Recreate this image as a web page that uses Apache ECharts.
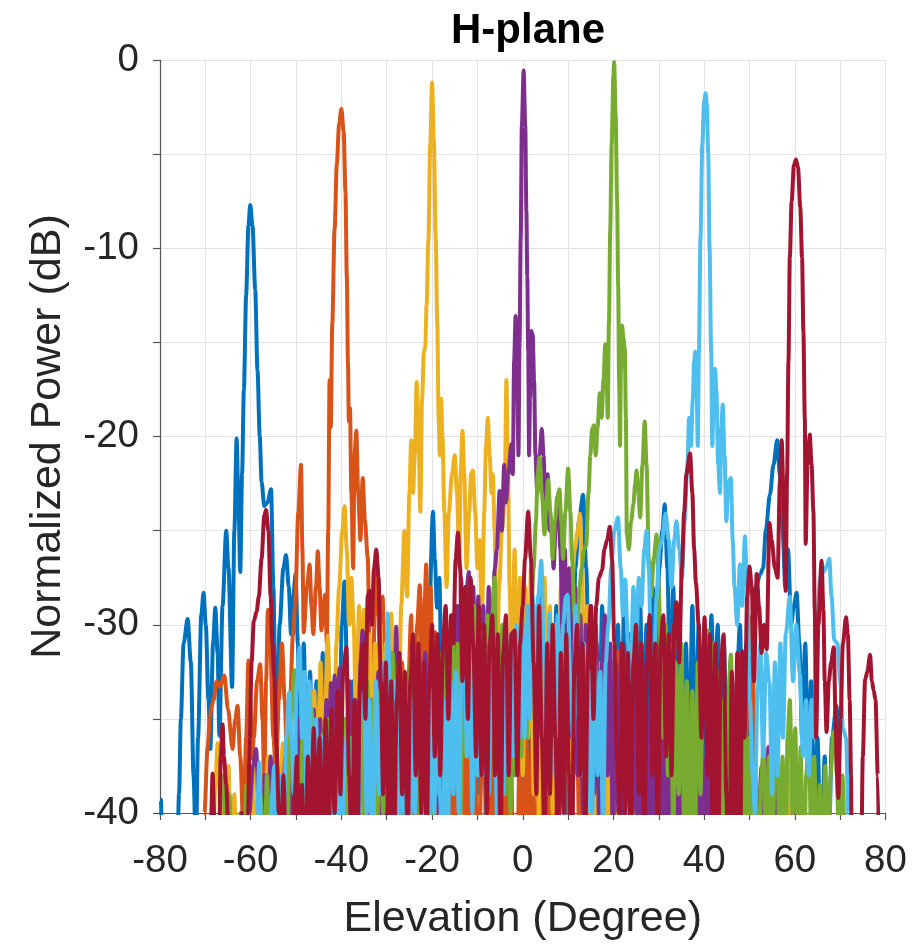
<!DOCTYPE html>
<html>
<head>
<meta charset="utf-8">
<script src="https://cdn.jsdelivr.net/npm/echarts@6/dist/echarts.min.js"></script>
<style>
html,body{margin:0;padding:0;background:#fff;}
#chart{width:917px;height:946px;}
</style>
</head>
<body>
<div id="chart"></div>
<script>
// Beam patterns: [elevation (deg), normalized power (dB)]
const beamM60 = [[-80.2,-45],[-79.8,-39.3],[-79.4,-45],[-76.4,-45],[-75.8,-39],[-75.4,-35],[-74.8,-31],[-73.9,-29.7],[-73.2,-32],[-72.6,-38],[-72.1,-42],[-71.6,-36],[-70.9,-29.5],[-70.4,-28.3],[-69.9,-30],[-69.3,-34],[-68.9,-36.6],[-68.3,-31],[-67.8,-29.1],[-67.3,-31.5],[-66.9,-35.9],[-66.2,-29],[-65.4,-25],[-64.9,-27],[-64.1,-33.3],[-63.6,-25],[-63.1,-20.1],[-62.7,-23.5],[-62.3,-27.2],[-61.9,-22],[-61.5,-17.5],[-61,-12.5],[-60.5,-8.8],[-60.1,-7.7],[-59.6,-8.8],[-59,-12.2],[-58.5,-16.5],[-58,-20],[-57.6,-22.4],[-57,-23.7],[-56.3,-23.5],[-55.5,-22.8],[-55,-28],[-54.4,-37],[-53.6,-30],[-52.8,-27],[-52.2,-26.3],[-51.6,-28],[-51.1,-30.5],[-50.6,-28.5],[-50.1,-27.3],[-49.6,-31],[-49,-38],[-48.3,-31],[-47.6,-39],[-46.9,-32.5],[-46.2,-42],[-45.5,-33],[-44.8,-40],[-44.1,-31.5],[-43.4,-41],[-42.7,-34],[-42,-44],[-41.3,-35],[-40.6,-39],[-39.9,-30],[-39.3,-27.7],[-38.7,-33],[-38.1,-40],[-37.4,-33],[-36.7,-42],[-36,-31.5],[-35.3,-38],[-34.6,-43],[-33.9,-33],[-33.2,-40],[-32.5,-32],[-31.8,-41],[-31.1,-34],[-30.4,-45],[-29.7,-35],[-29,-32.5],[-28.3,-40],[-27.6,-33],[-26.9,-42],[-26.2,-34],[-25.5,-44],[-24.8,-33],[-24.1,-40],[-23.4,-31],[-22.7,-39],[-22,-32],[-21.3,-41],[-20.6,-29],[-19.8,-24],[-19.4,-26.5],[-18.9,-29.1],[-18.4,-27.5],[-17.8,-35],[-17.1,-42],[-16.4,-34],[-15.7,-41],[-15,-32],[-14.3,-40],[-13.6,-31],[-12.9,-38],[-12.2,-43],[-11.5,-33],[-10.8,-40],[-10.1,-30],[-9.4,-39],[-8.7,-32],[-8,-42],[-7.3,-33],[-6.6,-40],[-5.9,-31],[-5.2,-39],[-4.5,-44],[-3.8,-33],[-3.1,-41],[-2.4,-31],[-1.7,-38],[-1,-29],[-0.3,-36],[0.4,-42],[1.1,-32],[1.8,-40],[2.5,-30],[3.2,-38],[3.9,-28],[4.6,-35],[5.3,-41],[6,-31],[6.7,-39],[7.4,-29],[8.1,-37],[8.8,-30],[9.5,-40],[10.2,-31],[10.9,-38],[11.6,-27],[12.4,-24.5],[13.3,-23.1],[14,-27],[14.7,-34],[15.4,-40],[16.1,-30],[16.8,-38],[17.5,-29],[18.2,-37],[18.9,-42],[19.6,-32],[20.3,-39],[21,-30],[21.7,-38],[22.4,-28],[23.1,-35],[23.8,-41],[24.5,-31],[25.2,-39],[25.9,-29],[26.6,-37],[27.3,-30],[28,-39],[28.7,-28],[29.4,-33],[30.1,-27],[30.8,-25],[31.3,-23.6],[31.9,-27],[32.5,-34],[33.2,-28],[33.9,-37],[34.6,-30],[35.3,-40],[36,-31],[36.7,-38],[37.4,-29],[38.1,-37],[38.8,-30],[39.5,-39],[40.2,-31],[40.9,-38],[41.6,-29.5],[42.3,-35],[43,-30],[43.7,-39],[44.4,-31],[45.1,-40],[45.8,-32],[46.5,-41],[47.2,-33],[47.9,-30],[48.6,-38],[49.3,-31],[50,-40],[50.7,-31],[51.4,-28],[52.4,-27.3],[53,-27],[53.6,-25],[54.5,-23.1],[55.3,-21.5],[56.1,-20.2],[56.7,-22],[57.3,-25],[57.9,-28],[58.5,-26],[59.2,-30],[59.8,-29],[60.4,-28.3],[61,-31],[61.6,-36],[62.3,-31],[63,-38],[63.6,-33],[64.3,-40],[65,-36],[65.8,-43],[66.6,-37],[67.3,-44],[68.2,-36],[69.2,-34.3],[69.8,-38],[70.5,-46]];

const beamM40 = [[-70.6,-45],[-70.2,-40],[-69.5,-36.5],[-69,-35],[-68.7,-34.4],[-68.2,-34],[-67.5,-33],[-66.8,-33.3],[-65.8,-32.7],[-65,-34.5],[-64,-36.6],[-63.4,-35],[-62.9,-34.3],[-62.3,-37],[-61.6,-41],[-61,-36],[-60.5,-31.9],[-60.1,-34],[-59.7,-37.1],[-59.3,-36],[-58.6,-33],[-57.9,-32.1],[-57.4,-35],[-57,-38.5],[-56.6,-33],[-56.2,-29.2],[-55.7,-31],[-55,-36],[-54.4,-38],[-53.8,-34],[-53.1,-31],[-52.5,-34],[-51.9,-38],[-51.3,-34],[-50.7,-30.6],[-50.2,-29],[-49.5,-24],[-48.9,-21.5],[-48.6,-26],[-48.3,-30.4],[-47.6,-28],[-47,-26.8],[-46.6,-29],[-46.2,-30.5],[-45.6,-28],[-45.2,-26.1],[-44.8,-28],[-44.4,-30.3],[-43.9,-29],[-43.6,-28.4],[-43.2,-31],[-42.9,-25],[-42.6,-17],[-42.35,-19.5],[-42,-14],[-41.5,-9],[-41,-5.5],[-40.5,-3.4],[-40,-2.6],[-39.5,-3.8],[-39.1,-7],[-38.8,-11.5],[-38.55,-16],[-38.35,-19.2],[-38.1,-18.5],[-37.8,-23],[-37.4,-27],[-37.1,-21],[-36.7,-19.7],[-36.3,-23],[-35.8,-25.5],[-35.3,-22.2],[-34.8,-24.5],[-34.2,-26.4],[-33.7,-32],[-33.2,-39],[-32.7,-29.5],[-32,-27],[-31.5,-33],[-30.9,-28.5],[-30.3,-40],[-29.7,-43],[-29.1,-31],[-28.5,-41],[-27.9,-30.5],[-27.3,-42],[-26.6,-32],[-26,-44],[-25.3,-33.5],[-24.6,-29.5],[-24,-41],[-23.3,-30],[-22.7,-27.9],[-22.1,-36],[-21.6,-28.5],[-21.3,-26.8],[-20.8,-33],[-20.3,-28],[-19.8,-35],[-19.3,-30.4],[-18.8,-41],[-18.2,-32.5],[-17.5,-42],[-16.8,-34],[-16.1,-44],[-15.4,-35],[-14.7,-46],[-14,-36],[-13.3,-33.5],[-12.6,-43],[-11.9,-35],[-11.2,-45],[-10.5,-36],[-9.8,-47],[-9.1,-37],[-8.4,-34],[-7.7,-44],[-7,-35],[-6.3,-46],[-5.6,-37],[-4.9,-47],[-4.2,-36],[-3.5,-43],[-2.8,-34.5],[-2.1,-42],[-1.4,-46],[-0.7,-37],[0,-44],[0.7,-35],[1.4,-43],[2.1,-36],[2.8,-46],[3.5,-37],[4.2,-34],[4.9,-42],[5.6,-36],[6.3,-45],[7,-36],[7.7,-42],[8.4,-30],[9.1,-27.5],[9.8,-35],[10.5,-46],[11.2,-38],[11.9,-35],[12.6,-43],[13.3,-36],[14,-45],[14.7,-37],[15.4,-47],[16.1,-38],[16.8,-43],[17.5,-36],[18.2,-45],[18.9,-38],[19.6,-47],[20.3,-35],[21,-31.4],[21.7,-37],[22.4,-41],[23.1,-47],[23.8,-39],[24.5,-36.5],[25.2,-44],[25.9,-38],[26.6,-47],[27.3,-40],[28,-37.5],[28.7,-45],[29.4,-39],[30.1,-47],[30.8,-40],[31.5,-38],[32.2,-46],[32.9,-39.5],[33.6,-45],[34.3,-38.5],[35,-47],[35.7,-40],[36.4,-37],[37.1,-45],[37.8,-39],[38.5,-47],[39.2,-40],[39.9,-38],[40.6,-46],[41.3,-39.5],[42,-44],[42.7,-47],[44,-47],[47,-46],[48.3,-40],[49,-37.5],[50,-31],[50.6,-29.5],[51.2,-38],[52,-46],[53.5,-46],[54.5,-40.5],[55.3,-38],[56,-43],[57,-39],[58,-47],[60,-47],[61.3,-39.5],[62,-44],[63,-47]];

const beamM20 = [[-68.5,-45],[-67.8,-38.5],[-67.3,-36.3],[-66.8,-39],[-66.2,-44],[-65.5,-38],[-64.9,-37.5],[-64.3,-43],[-63.6,-39],[-63,-46],[-61.5,-46],[-60.8,-39],[-60.2,-42],[-59.5,-37.5],[-58.9,-44],[-58.2,-38],[-57.5,-46],[-56.8,-39],[-56.1,-37],[-55.4,-43],[-54.7,-38],[-54,-45],[-53.4,-38],[-52.9,-36.3],[-52.3,-41],[-51.6,-37],[-50.9,-44],[-50.2,-36],[-49.5,-42],[-48.8,-35],[-48.1,-41],[-47.4,-34],[-46.7,-40],[-46,-33.5],[-45.3,-39],[-44.6,-32],[-43.9,-38],[-43,-30.6],[-42.4,-35],[-41.8,-40],[-41.1,-31],[-40.5,-28],[-39.8,-25],[-39.3,-23.7],[-38.8,-26],[-38.3,-30],[-37.8,-27.5],[-37.3,-30],[-36.7,-36],[-36.1,-29],[-35.5,-35],[-35,-29.2],[-34.4,-37],[-33.8,-30.5],[-33.2,-39],[-32.6,-31],[-32,-38],[-31.4,-30],[-30.8,-37],[-30.2,-31],[-29.6,-39],[-29,-29.4],[-28.5,-35],[-28,-30.5],[-27.4,-36],[-26.8,-29],[-26.1,-25],[-25.5,-28.5],[-25,-23],[-24.6,-20.2],[-24.2,-23],[-23.8,-21],[-23.4,-17.1],[-23,-19.5],[-22.6,-24],[-22.2,-18],[-21.8,-15.5],[-21.5,-15.2],[-21.2,-13],[-20.8,-9.5],[-20.4,-4.5],[-20,-1.2],[-19.6,-4.3],[-19.2,-9.5],[-18.85,-14],[-18.55,-19],[-18.3,-21],[-18,-18],[-17.7,-20],[-17.3,-24],[-16.8,-28],[-16.3,-24],[-15.6,-22],[-15,-21],[-14.5,-23],[-14,-27],[-13.7,-22],[-13.3,-19.7],[-12.9,-22],[-12.4,-27],[-11.8,-24],[-11.4,-22],[-11,-21.8],[-10.5,-24],[-10,-27],[-9.5,-25.5],[-9,-30],[-8.5,-24],[-8.1,-20.5],[-7.7,-19],[-7.3,-21],[-6.9,-23],[-6.6,-22],[-6.2,-25],[-5.7,-33],[-5.2,-28],[-4.6,-25],[-4,-23.5],[-3.6,-17],[-3.3,-21],[-2.9,-28],[-2.4,-33],[-1.8,-26],[-1.2,-35],[-0.6,-27.5],[0,-38],[0.6,-28],[1.2,-36],[1.8,-27],[2.4,-39],[3,-29],[3.6,-41],[4.2,-30],[4.8,-27.5],[5.4,-37],[6,-29],[6.6,-40],[7.2,-30],[7.8,-38],[8.4,-28],[9,-36],[9.6,-29.5],[10.2,-38],[10.8,-28],[11.5,-26],[12.1,-25],[12.6,-24.1],[13.1,-27],[13.6,-36],[14.2,-29],[14.8,-40],[15.4,-31],[16,-42],[16.6,-32],[17.2,-40],[17.8,-31],[18.4,-43],[19,-33],[19.6,-41],[20.2,-32],[20.8,-44],[21.4,-34],[22,-45],[22.6,-35],[23.2,-33],[23.8,-42],[24.4,-35],[25,-46],[25.6,-36],[26.2,-43],[26.8,-34.5],[27.4,-45],[28,-36],[28.6,-47],[29.2,-37],[29.8,-34],[30.4,-43],[31,-35],[31.6,-46],[32.2,-37],[32.8,-44],[33.4,-36],[34,-47],[34.6,-38],[35.2,-45],[35.8,-37],[36.4,-47],[37,-39],[37.6,-45],[38.2,-38],[38.8,-47],[39.6,-40],[40.3,-45],[41,-39],[41.8,-47],[43,-47],[44.2,-40],[45,-45],[46,-47],[49,-46],[50.5,-38],[51.3,-41],[52,-46],[54,-46],[55,-38.5],[55.7,-36.5],[56.3,-41],[57,-47],[58,-43],[58.8,-37.8],[59.5,-42],[60.2,-46]];

const beam0 = [[-61,-46],[-60.3,-40],[-59.5,-37.5],[-58.8,-36.6],[-58.2,-40],[-57.6,-45],[-56.9,-38],[-56.3,-42],[-55.6,-37],[-54.9,-44],[-54.2,-38],[-53.5,-47],[-52.9,-39],[-52.3,-37],[-51.6,-43],[-51,-36.5],[-50.3,-42],[-49.6,-35],[-48.9,-41],[-48.2,-36],[-47.5,-45],[-46.8,-37],[-46.1,-34.5],[-45.4,-41],[-44.7,-35],[-44,-42],[-43.3,-34],[-42.8,-38],[-42.3,-33.1],[-41.9,-37],[-41.5,-32.7],[-41,-36],[-40.4,-32.3],[-39.9,-38],[-39.3,-44],[-38.7,-35],[-38.1,-33],[-37.5,-41],[-36.9,-34],[-36.3,-42],[-35.8,-32],[-35.3,-30.3],[-34.8,-35],[-34.2,-41],[-33.6,-34],[-33,-43],[-32.4,-35],[-31.8,-32.5],[-31.2,-40],[-30.6,-33],[-30,-42],[-29.4,-34],[-28.8,-31.5],[-28.3,-35],[-27.9,-30.1],[-27.4,-36],[-26.9,-41],[-26.3,-34],[-25.7,-44],[-25.1,-35],[-24.5,-32.5],[-23.9,-40],[-23.3,-33],[-22.7,-42],[-22.1,-34],[-21.5,-31.5],[-20.9,-39],[-20.3,-32],[-19.7,-41],[-19.1,-33],[-18.5,-40],[-17.9,-32],[-17.4,-38],[-16.8,-30.5],[-16.2,-37],[-15.6,-29.5],[-15,-36],[-14.4,-29],[-13.9,-34],[-13.6,-27.5],[-13.1,-32],[-12.5,-28.5],[-11.9,-27.2],[-11.4,-32],[-10.9,-28],[-10.4,-35],[-9.8,-28.5],[-9.3,-37],[-8.7,-29],[-8.1,-35],[-7.5,-28],[-6.9,-33],[-6.2,-27.1],[-5.7,-26],[-5.1,-22.9],[-4.6,-25],[-4.1,-21.5],[-3.7,-23.5],[-3.2,-22],[-2.5,-20.4],[-2.2,-22],[-1.9,-16],[-1.57,-13.6],[-1.25,-16],[-0.95,-21],[-0.7,-15],[-0.45,-9.5],[-0.2,-3.5],[0.2,-0.56],[0.55,-3.5],[0.8,-8],[1,-11.5],[1.2,-15.5],[1.4,-21],[1.6,-18],[1.9,-14.4],[2.2,-14.6],[2.5,-17],[2.8,-21],[3.2,-23],[3.7,-21],[4.2,-19.6],[4.6,-21],[5,-24.5],[5.5,-22],[5.9,-25],[6.3,-24.6],[6.8,-27],[7.3,-24.5],[7.8,-23.1],[8.3,-26],[8.8,-31],[9.3,-26],[9.8,-33],[10.3,-27],[10.9,-36],[11.5,-28],[12.1,-38],[12.7,-29.5],[13.3,-40],[13.9,-30],[14.5,-38],[15.1,-29],[15.7,-39],[16.3,-31],[16.9,-42],[17.5,-32],[18.1,-29.5],[18.7,-38],[19.3,-31],[19.9,-42],[20.5,-32],[21.1,-40],[21.7,-31],[22.3,-43],[22.9,-33],[23.5,-30.5],[24.1,-40],[24.7,-32],[25.3,-44],[25.9,-33],[26.5,-41],[27.1,-32],[27.7,-44],[28.3,-34],[28.9,-46],[29.5,-35],[30.1,-33],[30.7,-42],[31.3,-34],[31.9,-46],[32.5,-35],[33.1,-44],[33.7,-34.5],[34.3,-47],[34.9,-36],[35.5,-44],[36.1,-35],[36.7,-47],[37.3,-37],[37.9,-45],[38.5,-36.5],[39.1,-47],[39.7,-37],[40.3,-44],[40.9,-36],[41.5,-46],[42.1,-38],[42.7,-47],[43.3,-37],[43.9,-34],[44.5,-45],[45.1,-38.5],[45.7,-47],[46.5,-39],[47.2,-37.5],[47.9,-45],[48.6,-39],[49.3,-47],[51,-47],[52,-40],[52.7,-37.5],[53.4,-44],[54.2,-36.5],[54.9,-42],[55.6,-46],[56.3,-38],[57,-43],[57.8,-47],[59,-46],[59.7,-39],[60.5,-44],[61.3,-38.5],[62,-46],[63,-46],[63.8,-39.5],[64.5,-44],[65.3,-47]];

const beamP20 = [[-67.5,-46],[-66.6,-39.5],[-66,-38],[-65.4,-43],[-64.7,-39],[-64,-45],[-63,-46],[-62.2,-40],[-61.6,-44],[-60.9,-38.5],[-60.2,-43],[-59.5,-47],[-58.5,-46],[-57.8,-39],[-57.1,-44],[-56.4,-38],[-55.7,-46],[-54.9,-40],[-54.2,-37.5],[-53.5,-43],[-52.8,-38],[-52.1,-45],[-51.4,-36],[-50.9,-34],[-50.4,-32.4],[-49.9,-38],[-49.3,-43],[-48.6,-36],[-47.9,-45],[-47.2,-37],[-46.5,-34.5],[-45.8,-41],[-45.1,-36],[-44.5,-44],[-44.1,-35.8],[-43.5,-41],[-42.8,-35],[-42.1,-43],[-41.4,-36.5],[-40.7,-46],[-40,-37],[-39.3,-35],[-38.6,-43],[-37.9,-36],[-37.2,-45],[-36.4,-38],[-35.7,-34],[-35,-41],[-34.3,-33],[-33.6,-40],[-32.9,-34],[-32.2,-42],[-31.5,-33.5],[-30.8,-40],[-30.1,-32.5],[-29.4,-39],[-28.7,-31.5],[-28,-38],[-27.4,-32],[-26.7,-40],[-25.9,-32.9],[-25.3,-39],[-24.6,-31.5],[-24,-38],[-23.3,-32],[-22.7,-41],[-22,-33],[-21.3,-43],[-20.6,-34],[-19.9,-40],[-19.1,-32.1],[-18.5,-39],[-17.9,-31.5],[-17.3,-38],[-16.7,-30.5],[-16.1,-37],[-15.5,-29.5],[-14.9,-37],[-14.3,-31],[-13.7,-40],[-13.1,-30.5],[-12.5,-37],[-11.9,-29.5],[-11.3,-36],[-10.7,-29],[-10.1,-38],[-9.5,-31],[-8.9,-30.4],[-8.4,-37],[-7.8,-29.5],[-7.2,-36],[-6.7,-29.5],[-6.2,-27.5],[-5.7,-33],[-5.1,-38],[-4.5,-30],[-3.9,-39],[-3.3,-31],[-2.7,-40],[-2.1,-31.5],[-1.5,-38],[-0.9,-30.5],[-0.3,-37],[0.3,-30],[0.9,-36],[1.4,-30.5],[1.9,-29.2],[2.4,-27],[2.9,-24.5],[3.3,-22],[3.7,-21.1],[4.2,-23],[4.8,-25.2],[5.2,-23.5],[5.6,-22.3],[6.1,-24],[6.6,-26.5],[7.1,-24.5],[7.6,-23.2],[8.1,-22.8],[8.5,-24.5],[8.9,-26.5],[9.4,-24],[10,-21.7],[10.5,-24],[10.9,-26.6],[11.4,-29.5],[11.9,-33],[12.5,-28],[13,-27],[13.5,-26],[14,-25.8],[14.5,-23],[14.9,-21],[15.3,-19.6],[15.7,-19.4],[16.1,-21],[16.5,-19.5],[17,-17.7],[17.4,-19],[17.8,-17],[18.2,-15.1],[18.5,-17],[18.75,-19],[19,-14],[19.3,-9],[19.6,-4.5],[20,-0.8],[20.15,-0.1],[20.5,-3],[20.8,-7.5],[21.05,-12],[21.25,-17],[21.45,-20.5],[21.65,-16.5],[21.9,-14.1],[22.2,-14.8],[22.5,-15.3],[22.75,-19],[22.95,-25.2],[23.4,-26],[23.9,-24.5],[24.4,-23.6],[24.8,-22.5],[25.1,-21.8],[25.5,-23],[25.9,-24.3],[26.4,-21.5],[26.9,-19.2],[27.3,-21.5],[27.8,-26.5],[28.3,-28.5],[28.9,-26.5],[29.5,-25.2],[30,-28],[30.5,-33],[31,-36],[31.5,-30],[32,-38],[32.6,-31],[33.2,-41],[33.8,-32],[34.4,-39],[35,-31],[35.6,-41],[36.2,-33],[36.8,-43],[37.4,-33.5],[38,-41],[38.6,-32],[39.2,-39],[39.8,-31.5],[40.4,-35],[40.9,-30.3],[41.4,-34],[41.9,-31],[42.4,-39],[42.9,-32.5],[43.5,-42],[44.1,-34],[44.7,-44],[45.3,-34],[45.9,-31.6],[46.5,-37],[47.1,-42],[47.7,-34.5],[48.3,-44],[48.9,-35.5],[49.5,-42],[50,-36],[50.7,-45],[51.3,-38],[51.9,-47],[52.5,-38.5],[53.1,-36.5],[53.7,-44],[54.3,-37],[54.9,-46],[55.5,-38],[56.1,-36.5],[56.7,-43],[57.3,-37],[57.9,-46],[58.4,-36],[58.9,-34],[59.5,-40],[60.1,-35.5],[60.7,-44],[61.3,-36.5],[61.9,-46],[62.5,-38],[63.1,-36],[63.7,-43],[64.3,-37],[64.9,-46],[65.5,-38.5],[66.1,-44],[66.7,-37.5],[67.3,-47],[67.9,-38],[68.5,-35.7],[69.1,-37],[69.7,-41],[70.5,-38],[71.2,-43],[71.6,-46]];

const beamP40 = [[-59,-46],[-58.6,-40],[-58.1,-37.3],[-57.6,-42],[-57,-46],[-56,-45],[-55.3,-39],[-54.8,-37.5],[-54.2,-42],[-53.5,-38],[-52.9,-45],[-52.2,-36],[-51.5,-33.6],[-51,-36],[-50.5,-39],[-49.8,-33],[-49.2,-31.2],[-48.7,-36],[-48.2,-32.5],[-47.6,-40],[-47,-33],[-46.3,-43],[-45.6,-35],[-44.9,-44],[-44.2,-36],[-43.5,-45],[-42.8,-37],[-42.1,-35],[-41.4,-42],[-40.7,-36],[-40,-46],[-39.3,-37],[-38.6,-35.5],[-37.9,-42],[-37.2,-36],[-36.5,-45],[-35.8,-35],[-35,-33.5],[-34.4,-40],[-33.8,-34],[-33.1,-43],[-32.4,-33],[-31.7,-39],[-31,-32],[-30.4,-37],[-29.8,-29.4],[-29.2,-34],[-28.6,-40],[-28,-33],[-27.4,-42],[-26.8,-34],[-26.2,-40],[-25.6,-33.5],[-25,-43],[-24.4,-34],[-23.8,-40],[-23.1,-32.1],[-22.5,-38],[-21.9,-43],[-21.3,-34],[-20.7,-41],[-20.1,-33.5],[-19.5,-40],[-18.9,-32.5],[-18.3,-39],[-17.7,-42],[-17.1,-34],[-16.5,-41],[-15.9,-33],[-15.3,-39],[-14.7,-32.5],[-14.1,-40],[-13.5,-33],[-12.9,-30.5],[-12.3,-37],[-11.7,-32],[-11.1,-40],[-10.5,-32],[-9.9,-38],[-9.3,-31.5],[-8.7,-38],[-8.1,-32],[-7.5,-39],[-7,-32.5],[-6.6,-31.3],[-6.1,-36],[-5.6,-41],[-5,-33],[-4.4,-39],[-3.8,-31.5],[-3.2,-38],[-2.6,-30.5],[-2,-37],[-1.4,-30],[-0.8,-36],[-0.2,-29.5],[0.4,-36],[1,-29],[1.6,-35],[2.2,-28.5],[2.8,-34],[3.4,-28.5],[4.1,-26.6],[4.7,-32],[5.3,-39],[5.9,-29.4],[6.5,-34],[7.1,-38],[7.7,-29.5],[8.3,-35],[8.9,-30],[9.5,-28.5],[9.9,-28.4],[10.5,-33],[11.1,-36],[11.7,-29],[12.3,-35],[12.9,-38],[13.5,-31],[14.1,-40],[14.7,-32.5],[15.3,-40],[15.9,-31.5],[16.5,-38],[17.1,-32.5],[17.7,-41],[18.3,-32],[18.9,-30],[19.5,-27],[20.2,-25],[21,-24.3],[21.6,-27],[22.1,-29.5],[22.6,-27.6],[23.2,-31],[23.8,-33],[24.4,-28],[25,-31.5],[25.6,-27.5],[26.2,-29],[26.8,-26],[27.3,-25],[27.8,-27],[28.3,-32],[28.9,-33],[29.5,-28.5],[30.1,-26],[30.7,-25.5],[31.5,-24.1],[32.2,-25.5],[32.8,-28],[33.4,-25.5],[33.9,-24.5],[34.5,-26],[35.1,-27.5],[35.7,-24.5],[36.3,-21.5],[36.7,-19],[37.1,-20.5],[37.5,-18],[37.8,-16],[38.05,-15.5],[38.3,-16.5],[38.6,-20.5],[38.85,-15.5],[39.2,-9.5],[39.6,-4.5],[40,-2.2],[40.3,-1.76],[40.6,-2.3],[40.9,-5],[41.2,-10],[41.55,-15.5],[41.8,-20.5],[42.1,-18],[42.4,-16.4],[42.7,-17.5],[43.1,-21.5],[43.5,-23],[43.8,-19.5],[44.1,-18.3],[44.5,-21],[44.9,-24.5],[45.3,-22.5],[45.9,-22.2],[46.3,-25.5],[46.7,-28],[47.3,-30],[47.9,-26.8],[48.4,-29],[49,-25.3],[49.5,-28],[50.1,-34],[50.7,-38],[51.2,-40],[51.8,-33.5],[52.4,-31],[53,-37],[53.7,-31.5],[54.4,-33.1],[55,-39],[55.6,-32],[56.2,-38],[56.8,-31],[57.4,-36],[58,-30.5],[58.9,-28.5],[59.6,-33],[60.3,-30],[61.1,-32.6],[61.8,-37],[62.5,-34],[63.1,-38],[63.7,-34],[64.3,-36],[64.9,-30],[65.6,-27.5],[66.3,-27.2],[67,-26.9],[67.6,-26.5],[68.1,-28.5],[68.7,-30.8],[69.4,-31],[70,-33],[70.6,-35.5],[71.3,-36],[71.8,-40],[72.2,-46]];

const beamP60 = [[-69,-45],[-68.7,-40],[-68.4,-37.9],[-68,-40.5],[-67.5,-45],[-67,-42],[-66.6,-37],[-66.2,-35.3],[-65.9,-37],[-65.4,-38.5],[-64.9,-41],[-64.3,-46],[-62.5,-46],[-62,-40],[-61.6,-43],[-61.2,-46],[-60.6,-40],[-60.2,-36],[-59.8,-32],[-59.3,-29.8],[-58.7,-29.3],[-58.2,-28.5],[-57.6,-26.5],[-57,-24.2],[-56.6,-23.9],[-56.1,-25],[-55.6,-28.5],[-55.2,-31],[-54.8,-32.7],[-54.3,-36.5],[-53.8,-40],[-53.3,-42],[-52.8,-38],[-52.3,-41],[-51.8,-46],[-50.8,-46],[-50.3,-39],[-49.8,-37],[-49.3,-43],[-48.7,-38.5],[-48.1,-46],[-47.4,-37],[-46.8,-42],[-46.1,-35.5],[-45.5,-41],[-44.8,-36],[-44.1,-44],[-43.5,-35],[-42.8,-41],[-42.2,-34.5],[-41.5,-40],[-40.8,-33.5],[-40.2,-39],[-39.6,-32.5],[-38.9,-31.2],[-38.3,-38],[-37.7,-43],[-37.1,-34],[-36.5,-44],[-35.9,-33],[-35.3,-31],[-34.7,-35],[-34.2,-28.5],[-33.8,-28.2],[-33.3,-30],[-32.8,-27],[-32.3,-26],[-31.8,-27.5],[-31.3,-33],[-30.8,-39],[-30.2,-32],[-29.6,-41],[-29,-33],[-28.4,-43],[-27.8,-34],[-27.2,-31.5],[-26.6,-39],[-26,-32.5],[-25.4,-42],[-24.8,-33],[-24.2,-30.5],[-23.6,-38],[-23,-31],[-22.4,-40],[-21.8,-32],[-21.2,-42],[-20.6,-33],[-20,-30],[-19.4,-37],[-18.8,-30.5],[-18.2,-38],[-17.6,-31],[-17,-29],[-16.4,-35],[-15.8,-29.5],[-15.3,-31],[-14.8,-26.5],[-14.3,-25.1],[-13.8,-27],[-13.3,-33],[-12.7,-28],[-12.1,-35],[-11.5,-27.5],[-10.9,-31],[-10.3,-37],[-9.7,-29],[-9.1,-38],[-8.5,-30],[-7.9,-40],[-7.3,-31],[-6.7,-29.5],[-6.1,-38],[-5.5,-30.5],[-4.9,-42],[-4.3,-31.5],[-3.7,-29.5],[-3.1,-38],[-2.5,-30.5],[-1.8,-30.3],[-1.2,-38],[-0.6,-31],[0,-29],[0.5,-26.5],[1.2,-24],[1.8,-26.5],[2.4,-32],[3,-39],[3.6,-29],[4.2,-36],[4.8,-42],[5.4,-31],[6,-39],[6.6,-30],[7.2,-36],[7.8,-43],[8.4,-31.5],[9,-40],[9.6,-30.5],[10.2,-38],[10.8,-44],[11.4,-32],[12,-30],[12.6,-38],[13.2,-31],[13.8,-41],[14.4,-31.5],[15,-29],[15.6,-35],[16.2,-29],[16.8,-27.5],[17.5,-27.1],[18,-26],[18.6,-25.5],[19.2,-24.8],[19.7,-26.5],[20.2,-31],[20.8,-37],[21.4,-40],[22,-31],[22.6,-40],[23.2,-31.5],[23.8,-42],[24.4,-32],[25,-30],[25.6,-39],[26.2,-31],[26.8,-43],[27.4,-32],[28,-29.5],[28.6,-38],[29.2,-31],[29.8,-41],[30.4,-31],[31,-29.5],[31.6,-37],[32.2,-30.5],[32.8,-38],[33.4,-30],[33.9,-28.8],[34.5,-32],[35.1,-27],[35.6,-24],[36.1,-22],[36.9,-20.9],[37.4,-23],[37.8,-26],[38.2,-27.8],[38.8,-30],[39.4,-36],[40.1,-29.6],[40.7,-38],[41.3,-30.5],[41.9,-41],[42.5,-31],[43.1,-42],[43.7,-32],[44.3,-30.5],[44.9,-39],[45.5,-45],[46.1,-32.5],[46.7,-42],[47.3,-31.5],[47.9,-45],[48.4,-31.4],[48.9,-36],[49.5,-28.5],[50,-26.9],[50.5,-28],[51,-33],[51.6,-27.3],[52.1,-29],[52.7,-31.5],[53.2,-30],[53.8,-31.3],[54.4,-24.6],[54.9,-25.5],[55.6,-27],[56.2,-27.5],[56.7,-22.5],[57.1,-20.2],[57.5,-23],[58,-28.2],[58.3,-22],[58.6,-16],[58.9,-10.5],[59.3,-7.5],[59.8,-5.6],[60.25,-5.28],[60.7,-5.7],[61.2,-7.8],[61.6,-10.5],[61.9,-14.5],[62.2,-19],[62.4,-25.7],[62.8,-21.5],[63.3,-19.9],[63.7,-21.5],[64.1,-24],[64.4,-29.2],[64.7,-36],[65.2,-30],[65.9,-26.6],[66.3,-29.2],[66.6,-33],[67,-35.7],[67.5,-33],[68,-32],[68.6,-31.2],[69,-35],[69.3,-38],[69.6,-39.2],[70.1,-35],[70.6,-31],[71.3,-29.6],[71.7,-30.5],[72.1,-34],[72.4,-38],[72.6,-46],[74.5,-46],[75,-37],[75.5,-32.9],[76,-32.5],[76.6,-31.6],[77,-33],[77.4,-33.5],[77.8,-34],[78.3,-38],[78.7,-46]];

const seriesNames = ['-60°', '-40°', '-20°', '0°', '20°', '40°', '60°'];
const seriesColors = ['#0072BD', '#D95319', '#EDB120', '#7E2F8E', '#77AC30', '#4DBEEE', '#A2142F'];
const seriesData = [beamM60, beamM40, beamM20, beam0, beamP20, beamP40, beamP60];

const xTickLabels = [-80, -60, -40, -20, 0, 20, 40, 60, 80];
const yTickLabels = [-40, -30, -20, -10, 0];

const chart = echarts.init(document.getElementById('chart'), null, {renderer: 'canvas'});
const axisColor = '#262626';
const gridColor = '#e3e3e3';
const font = 'Liberation Sans, Arial, Helvetica, sans-serif';

chart.setOption({
  animation: false,
  backgroundColor: '#ffffff',
  title: {
    text: 'H-plane',
    left: 446,
    top: 5,
    textStyle: {fontFamily: font, fontSize: 42, fontWeight: 'bold', color: '#000'}
  },
  grid: {left: 160, right: 31.5, top: 60, bottom: 128.5, containLabel: false},
  xAxis: {
    type: 'value', min: -80, max: 80, interval: 10,
    name: 'Elevation (Degree)', nameLocation: 'middle', nameGap: 85,
    nameTextStyle: {fontFamily: font, fontSize: 43, color: axisColor},
    axisLine: {show: true, onZero: false, lineStyle: {color: '#555', width: 1.2}},
    axisTick: {show: true, inside: false, length: 7, lineStyle: {color: '#555', width: 1.2}},
    axisLabel: {
      fontFamily: font, fontSize: 38.5, color: axisColor, margin: 29,
      formatter: v => xTickLabels.indexOf(v) >= 0 ? String(v) : ''
    },
    splitLine: {show: true, lineStyle: {color: gridColor, width: 1}}
  },
  yAxis: {
    type: 'value', min: -40, max: 0, interval: 5,
    name: 'Normalized Power (dB)', nameLocation: 'middle', nameGap: 90,
    nameTextStyle: {fontFamily: font, fontSize: 43, color: axisColor},
    axisLine: {show: true, onZero: false, lineStyle: {color: '#555', width: 1.2}},
    axisTick: {show: true, inside: false, length: 7, lineStyle: {color: '#555', width: 1.2}},
    axisLabel: {
      fontFamily: font, fontSize: 38.5, color: axisColor, margin: 21,
      formatter: v => yTickLabels.indexOf(v) >= 0 ? String(v) : ''
    },
    splitLine: {show: true, lineStyle: {color: gridColor, width: 1}}
  },
  series: seriesData.map((d, i) => ({
    name: seriesNames[i],
    type: 'line',
    data: d,
    showSymbol: false,
    symbol: 'none',
    smooth: 0.3,
    smoothMonotone: 'x',
    clip: true,
    lineStyle: {color: seriesColors[i], width: 4},
    itemStyle: {color: seriesColors[i]},
    z: 2 + i
  }))
});
</script>
</body>
</html>
